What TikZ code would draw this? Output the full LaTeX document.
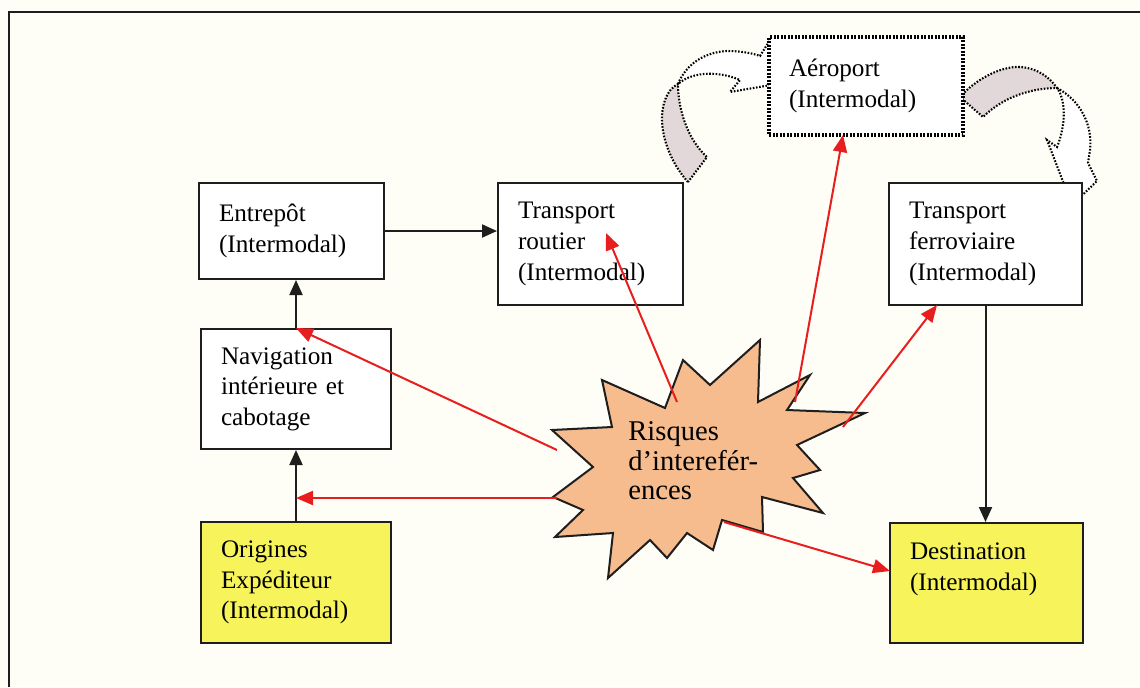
\documentclass[tikz,border=0pt]{standalone}
\usepackage{fontspec}
\setmainfont{Liberation Serif}
\usetikzlibrary{arrows.meta}

\definecolor{paper}{RGB}{254,254,246}
\definecolor{boxyellow}{RGB}{247,243,90}
\definecolor{starfill}{RGB}{246,188,142}
\definecolor{riskred}{RGB}{232,30,30}
\definecolor{bandgray}{RGB}{226,216,218}
\definecolor{ink}{RGB}{30,30,30}

\begin{document}
\begin{tikzpicture}[x=0.5pt,y=-0.5pt,
  box/.style={draw=ink, line width=1pt, fill=white, align=left,
    inner xsep=10pt, inner ysep=1pt,
    font=\fontsize{12.6}{15.3}\selectfont},
  yellowbox/.style={box, fill=boxyellow},
  dottedbox/.style={box, draw=black, line width=1.6pt, dash pattern=on 1pt off 0.75pt},
  band/.style={draw=black, line width=1.05pt, dash pattern=on 0.8pt off 0.8pt},
  flow/.style={draw=ink, line width=1pt, -{Triangle[length=7.5pt,width=6.5pt]}},
  risk/.style={draw=riskred, line width=1pt, -{Triangle[length=8.5pt,width=7pt]}},
]
% page and open frame
\fill[paper] (0,0) rectangle (1140,687);
\useasboundingbox (0,0) rectangle (1140,687);
\draw[ink, line width=1pt] (9,687) -- (9,12) -- (1140,12);

% curved block arrow: road transport -> airport
\draw[band, fill=white] (678,84) .. controls (686,64) and (705,52) .. (727,51)
  .. controls (740,51) and (752,53) .. (760,56) -- (770,40) -- (800,80)
  -- (730,92) -- (740,80) .. controls (722,72) and (694,70) .. (678,84) -- cycle;
\draw[band, fill=bandgray] (688,182) .. controls (668,160) and (656,125) .. (665,100)
  .. controls (668,92) and (672,87) .. (678,84)
  .. controls (678,110) and (688,140) .. (707,157) -- cycle;

% curved block arrow: airport -> rail transport
\draw[band, fill=white] (1057,88) .. controls (1080,100) and (1093,125) .. (1090,150)
  -- (1088,163) -- (1097,181) -- (1072,205) -- (1047,140) -- (1057,147)
  .. controls (1066,125) and (1066,100) .. (1057,88) -- cycle;
\draw[band, fill=bandgray] (960,97) .. controls (975,80) and (1000,66) .. (1020,67)
  .. controls (1038,68) and (1050,78) .. (1057,88)
  .. controls (1035,88) and (1005,95) .. (983,117) -- cycle;

% boxes
\node[box, text width=72.5pt, minimum height=48pt] (ent) at (291.5,231)
  {Entrepôt\\(Intermodal)};
\node[box, text width=72.5pt, minimum height=61pt] (route) at (590.5,244)
  {Transport\\routier\\(Intermodal)};
\node[box, text width=76.5pt, minimum height=61pt] (ferro) at (985.5,244)
  {Transport\\ferroviaire\\(Intermodal)};
\node[dottedbox, text width=77pt, minimum height=49pt] (aero) at (866,86)
  {Aéroport\\(Intermodal)};
\node[box, text width=75pt, minimum height=60pt] (nav) at (296,389)
  {Navigation\\intérieure et\\cabotage};
\node[yellowbox, text width=75pt, minimum height=60.5pt] (orig) at (296,582.5)
  {Origines\\Expéditeur\\(Intermodal)};
\node[yellowbox, text width=76.5pt, minimum height=60pt] (dest) at (986.5,583)
  {\parbox[c][58pt][t]{76.5pt}{\vspace*{9pt}Destination\\(Intermodal)}};

% main flow
\draw[flow] (orig.north) -- (nav.south);
\draw[flow] (nav.north) -- (nav.north |- ent.south);
\draw[flow] (ent.east) -- (ent.east -| route.west);
\draw[flow] (ferro.south) -- (ferro.south |- dest.north);

% interference star
\draw[ink, line width=1pt, fill=starfill, line join=miter]
  (760,340) -- (758,402) -- (810,375) -- (787,410) -- (865,413) -- (797,445)
  -- (820,470) -- (793,478) -- (823,513) -- (762,497) -- (763,532) -- (722,520)
  -- (713,550) -- (687,533) -- (667,558) -- (650,540) -- (608,578) -- (613,533)
  -- (555,537) -- (583,510) -- (553,497) -- (593,467) -- (552,430) -- (612,427)
  -- (602,380) -- (665,408) -- (683,360) -- (710,385) -- cycle;
\node[anchor=west, inner sep=0pt, align=left, font=\fontsize{14.3}{14.8}\selectfont]
  (risk) at (628,461) {Risques\\d’interefér-\\ences};

% interference links
\coordinate (s1) at (557,450);
\coordinate (s2) at (557,498);
\coordinate (s3) at (677,402);
\coordinate (s4) at (795,402);
\coordinate (s5) at (843,427);
\coordinate (s6) at (724,522);
\coordinate (t3) at (606,233);
\coordinate (t4) at (843,135);
\coordinate (t5) at (937,305);
\coordinate (t6) at (890,571);
\draw[risk] (s1) -- (nav.north);
\draw[risk] (s2) -- (s2 -| orig.north);
\draw[risk] (s3) -- (t3);
\draw[risk] (s4) -- (t4);
\draw[risk] (s5) -- (t5);
\draw[risk] (s6) -- (t6);
\end{tikzpicture}
\end{document}
